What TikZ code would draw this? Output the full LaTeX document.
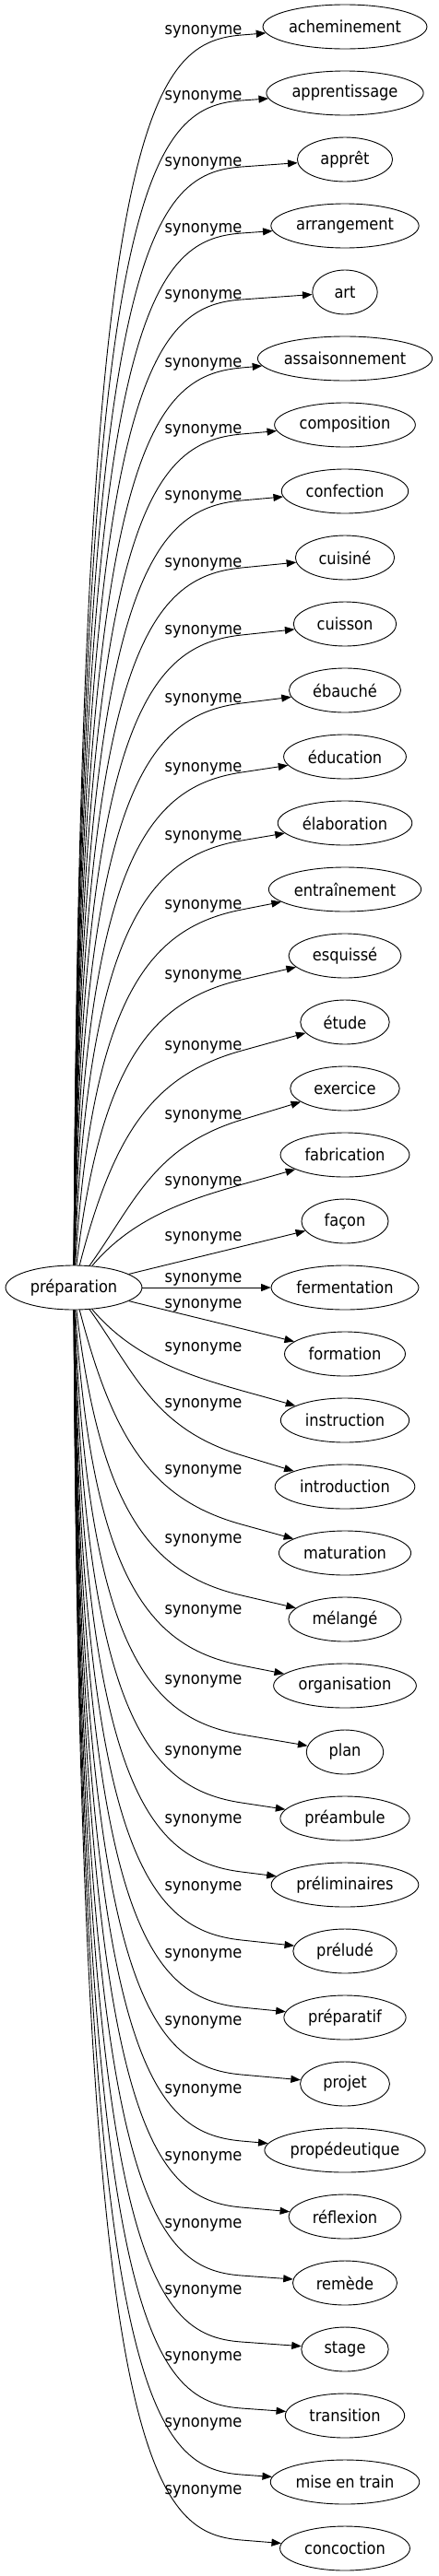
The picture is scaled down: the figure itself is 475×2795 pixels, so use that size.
\documentclass[tikz,border=0pt]{standalone}
\usepackage{fontspec}
\setmainfont{DejaVu Sans Condensed}
\usetikzlibrary{positioning, arrows.meta, calc, shapes.geometric}
\tikzstyle{line} = [draw, line width=0.9pt, -{Triangle[length=10.5pt,width=8pt]}]
\tikzstyle{word} = [draw, ellipse, line width=0.9pt, inner sep=0pt, minimum height=48pt]
\tikzstyle{rel} = [inner sep=0pt]

\begin{document}
\fontsize{18}{21}\selectfont
\begin{tikzpicture}[x=1pt, y=-1pt]
\useasboundingbox (0,0) rectangle (475,2795);
\pgfmathsetmacro\w{1.085*width("préparation")+45.6}
\node[word, minimum width=\w pt] (preparation) at (80,1397) {préparation};
% synonyms: name / text / label y / bend y
\foreach \nm/\txt/\lab/\p [count=\i from 0] in {acheminement/acheminement/34/38, apprentissage/apprentissage/105/109, appret/apprêt/177/181, arrangement/arrangement/249/253, art/art/321/325, assaisonnement/assaisonnement/395/399, composition/composition/467/471, confection/confection/539/543, cuisine/cuisiné/612/616, cuisson/cuisson/685/689, ebauche/ébauché/759/763, education/éducation/834/838, elaboration/élaboration/908/912, entrainement/entraînement/983/987, esquisse/esquissé/1059/1063, etude/étude/1136/1140, exercice/exercice/1211/1215, fabrication/fabrication/1283/0, facon/façon/1343/0, fermentation/fermentation/1388/0, formation/formation/1416/0, instruction/instruction/1463/0, introduction/introduction/1524/1579, maturation/maturation/1596/1654, melange/mélangé/1671/1731, organisation/organisation/1748/1807, plan/plan/1824/1882, preambule/préambule/1901/1956, preliminaires/préliminaires/1975/2031, prelude/préludé/2048/2105, preparatif/préparatif/2121/2178, projet/projet/2194/2251, propedeutique/propédeutique/2268/2323, reflexion/réflexion/2341/2395, remede/remède/2414/2469, stage/stage/2486/2541, transition/transition/2558/2613, misentrain/mise en train/2630/2685, concoction/concoction/2703/2756}{
  \pgfmathsetmacro\T{29+72*\i}
  \pgfmathsetmacro\w{1.085*width("\txt")+45.6}
  \node[word, minimum width=\w pt] (\nm) at (374,\T) {\txt};
  \node[rel] (l\nm) at (220.5,\lab) {synonyme};
  \ifnum\p>0
    \pgfmathsetmacro\cy{\p+(\T<1397 ? 90 : -90)}
    \pgfmathsetmacro\cx{86+60*exp(-(abs(\T-1397)-216)/150)}
    \draw[line] (preparation) .. controls (\cx,\cy) and ($(262,\p)!-100pt!(\nm)$) .. (262,\p) -- (\nm);
  \fi
}
% the five edges next to the middle
\draw[line] (preparation) .. controls (155,1308) and (234,1294) .. (fabrication);
\draw[line] (preparation) -- (facon);
\draw[line] (preparation) -- (fermentation);
\draw[line] (preparation) -- (formation);
\draw[line] (preparation) .. controls (155,1486) and (234,1500) .. (instruction);
\end{tikzpicture}
\end{document}
